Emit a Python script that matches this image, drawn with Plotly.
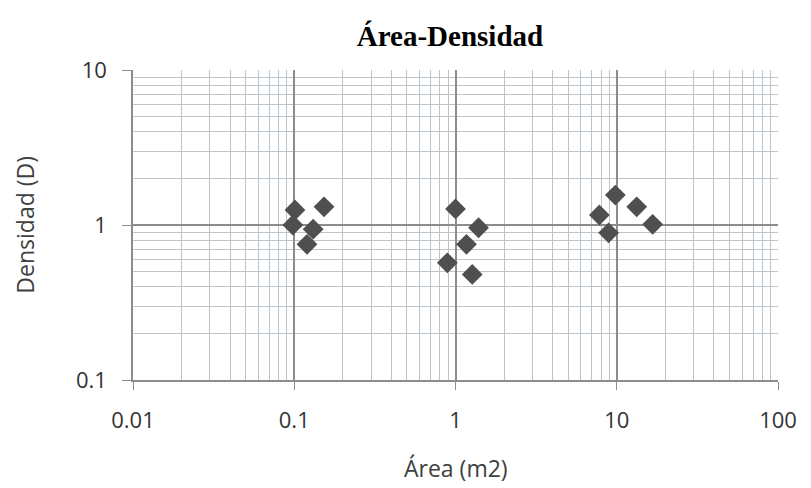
import plotly.graph_objects as go

area = [0.101, 0.098, 0.153, 0.131, 0.12,
        1.0, 1.39, 1.17, 0.89, 1.27,
        9.8, 13.3, 7.8, 8.9, 16.7]
densidad = [1.25, 1.0, 1.31, 0.94, 0.75,
            1.27, 0.96, 0.75, 0.57, 0.48,
            1.56, 1.31, 1.16, 0.89, 1.01]
x_ticks = [0.01, 0.1, 1, 10, 100]
x_tick_labels = ["0.01", "0.1", "1", "10", "100"]
y_ticks = [0.1, 1, 10]
y_tick_labels = ["0.1", "1", "10"]
minor_steps = [2, 3, 4, 5, 6, 7, 8, 9]
x_decades = [0.01, 0.1, 1, 10]
y_decades = [0.1, 1]

x_minor = [d * s for d in x_decades for s in minor_steps]
y_minor = [d * s for d in y_decades for s in minor_steps]

fig = go.Figure()
fig.add_trace(go.Scatter(
    x=area, y=densidad, mode="markers",
    marker=dict(symbol="diamond", size=16, color="#4f4f4f", line=dict(width=0)),
    showlegend=False,
))

font_sans = "Open Sans, Liberation Sans, sans-serif"
fig.update_layout(
    width=811, height=488,
    margin=dict(l=125, r=41, t=62, b=116),
    paper_bgcolor="white", plot_bgcolor="white",
    title=dict(text="<b>Área-Densidad</b>", x=0.545, xanchor="center", y=0.943, yanchor="middle",
               font=dict(family="Liberation Serif, Times New Roman, serif", size=29, color="black")),
    font=dict(family=font_sans, color="#404040"),
    annotations=[
        dict(text="Área (m2)", xref="paper", yref="paper", x=0.5, y=-0.285,
             xanchor="center", yanchor="middle", showarrow=False,
             font=dict(size=23, color="#404040")),
        dict(text="Densidad (D)", xref="paper", yref="paper", x=-0.168, y=0.5,
             xanchor="center", yanchor="middle", showarrow=False, textangle=-90,
             font=dict(size=23, color="#404040")),
    ],
)
fig.update_xaxes(
    type="log", range=[-2, 2], automargin=False,
    tickvals=x_ticks, ticktext=x_tick_labels,
    tickfont=dict(size=22, color="#333333"),
    ticks="outside", ticklen=8, tickcolor="#8c8c8c", ticklabelstandoff=12,
    showgrid=True, gridcolor="#8c8c8c", gridwidth=1.5,
    minor=dict(tickvals=x_minor, showgrid=True, gridcolor="#bcc5cc", gridwidth=1, ticks=""),
    showline=True, linecolor="#8c8c8c", linewidth=1.5,
    zeroline=False,
)
fig.update_yaxes(
    type="log", range=[-1, 1], automargin=False,
    tickvals=y_ticks, ticktext=y_tick_labels,
    tickfont=dict(size=22, color="#333333"),
    ticks="outside", ticklen=9, tickcolor="#8c8c8c", ticklabelstandoff=11,
    showgrid=True, gridcolor="#8c8c8c", gridwidth=1.5,
    minor=dict(tickvals=y_minor, showgrid=True, gridcolor="#bcc5cc", gridwidth=1, ticks=""),
    showline=True, linecolor="#8c8c8c", linewidth=1.5,
    zeroline=False,
)
fig.write_html("out.html")
